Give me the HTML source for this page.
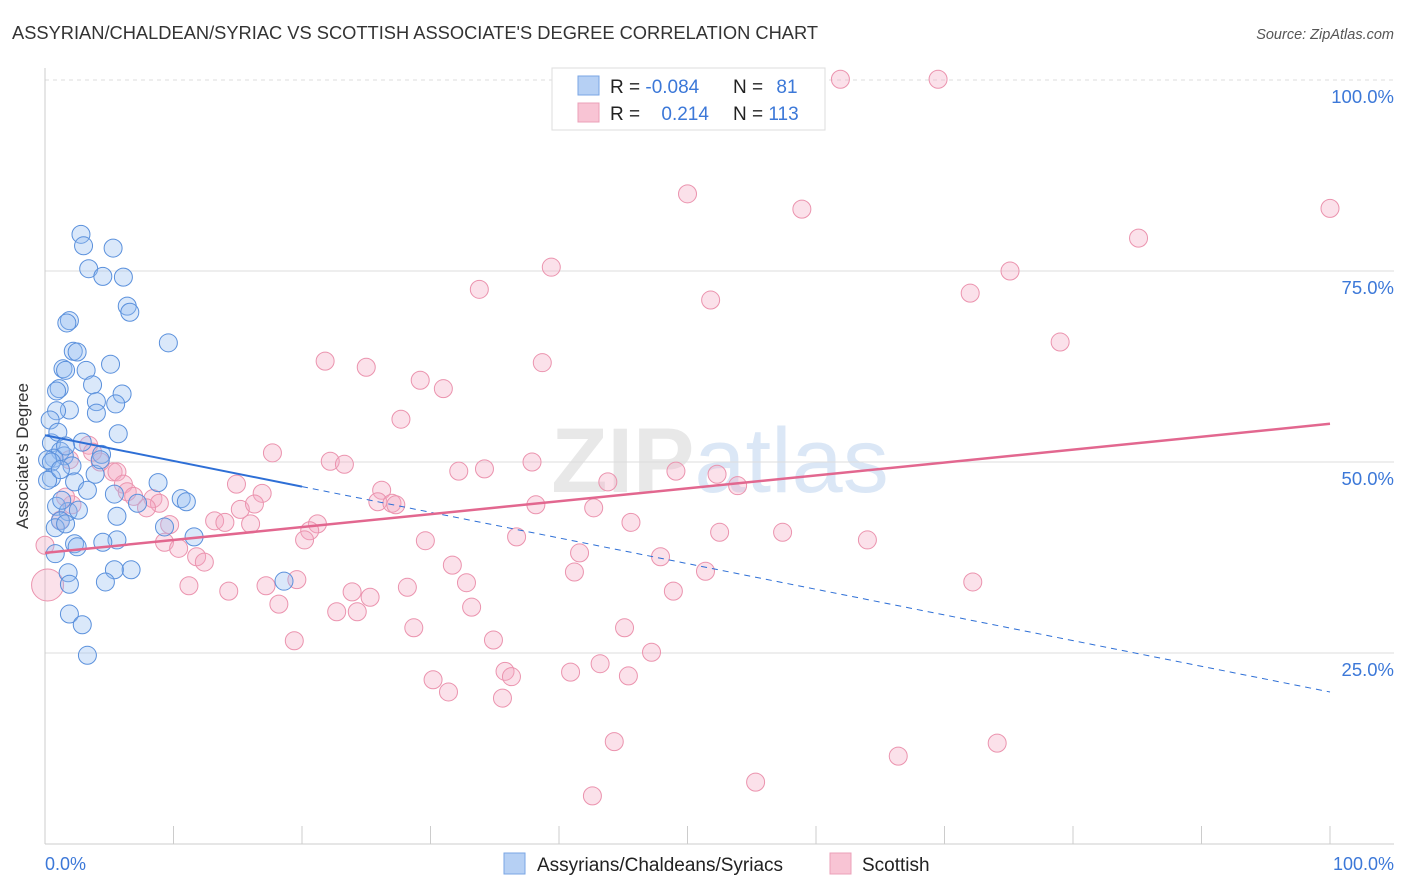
<!DOCTYPE html>
<html><head><meta charset="utf-8"><style>
body{margin:0;background:#fff;font-family:"Liberation Sans",sans-serif}
svg{display:block}
</style></head><body>
<svg id="c" width="1406" height="892" xmlns="http://www.w3.org/2000/svg">
<text x="12" y="39" font-size="18.3" fill="#333">ASSYRIAN/CHALDEAN/SYRIAC VS SCOTTISH ASSOCIATE'S DEGREE CORRELATION CHART</text>
<text x="1394" y="39" font-size="14.5" fill="#555" font-style="italic" text-anchor="end">Source: ZipAtlas.com</text>
<text x="720" y="492" font-size="92" fill="#e8e8e8" text-anchor="middle" font-weight="bold">ZIP<tspan fill="#dbe7f6" font-weight="normal">atlas</tspan></text>
<g id="grid"></g>
<line x1="45" y1="68" x2="45" y2="844" stroke="#ccc"/>
<line x1="45" y1="844" x2="1394" y2="844" stroke="#ccc"/>
<text x="28" y="456" font-size="17" fill="#333" text-anchor="middle" transform="rotate(-90 28 456)">Associate's Degree</text>
<text x="45" y="870" font-size="18" fill="#3c78d8">0.0%</text>
<text x="1394" y="870" font-size="18" fill="#3c78d8" text-anchor="end">100.0%</text>
<g id="pts"></g>
<g id="trend"></g>
<g>
<rect x="552" y="68" width="273" height="62" fill="#fff" stroke="#ddd"/>
<rect x="578" y="76" width="21" height="19" fill="#b6d0f4" stroke="#7aa6e4"/>
<rect x="578" y="103" width="21" height="19" fill="#f8c4d4" stroke="#eba0b8"/>
<text x="610" y="93" font-size="19" fill="#222">R = <tspan fill="#3c78d8">-0.084</tspan></text>
<text x="733" y="93" font-size="19" fill="#222">N = <tspan fill="#3c78d8" dx="8">81</tspan></text>
<text x="610" y="120" font-size="19" fill="#222">R = <tspan fill="#3c78d8" dx="16">0.214</tspan></text>
<text x="733" y="120" font-size="19" fill="#222">N = <tspan fill="#3c78d8">113</tspan></text>
</g>
<g>
<rect x="504" y="853" width="21" height="21" fill="#b6d0f4" stroke="#7aa6e4"/>
<text x="537" y="871" font-size="19" fill="#222">Assyrians/Chaldeans/Syriacs</text>
<rect x="830" y="853" width="21" height="21" fill="#f8c4d4" stroke="#eba0b8"/>
<text x="862" y="871" font-size="19" fill="#222">Scottish</text>
</g>
</svg>
<script>
const yTicks=[25,50,75,100];
const yTickLabels=["25.0%","50.0%","75.0%","100.0%"];
const xTicks=[0,10,20,30,40,50,60,70,80,90,100];
const blueX=[2.8,3.0,5.3,3.4,4.5,6.1,6.4,6.6,1.9,1.7,9.6,2.2,2.5,5.1,1.4,1.6,3.2,3.7,1.1,0.9,6.0,4.0,5.5,1.9,0.9,4.0,0.4,5.7,2.9,0.5,1.2,1.5,4.4,0.7,2.1,0.2,0.5,3.9,2.3,0.5,8.8,3.3,5.4,10.6,11.0,7.2,0.9,1.8,5.6,1.2,0.8,1.6,11.6,5.6,2.3,4.5,2.5,0.8,1.8,6.7,5.4,4.7,1.9,18.6,1.9,2.9,3.3,0.2,1.3,2.6,9.3,4.3,1.0,1.6,1.2];
const blueY=[79.8,78.3,78.0,75.3,74.3,74.2,70.4,69.6,68.5,68.2,65.6,64.5,64.4,62.8,62.2,62.0,62.0,60.1,59.6,59.3,58.9,57.9,57.6,56.8,56.7,56.4,55.5,53.7,52.6,52.5,51.4,50.8,51.0,50.5,49.5,50.3,50.0,48.4,47.4,47.9,47.3,46.3,45.8,45.2,44.8,44.6,44.2,43.5,42.9,42.3,41.4,41.9,40.2,39.8,39.3,39.5,38.9,38.0,35.5,35.9,35.9,34.3,34.0,34.4,30.1,28.7,24.7,47.6,45.0,43.7,41.5,50.3,53.9,52.1,49.0];
const pinkX=[61.9,69.5,50.0,58.9,100,85.1,39.4,75.1,33.8,72.0,51.8,79.0,21.8,25.0,38.7,29.2,31.0,27.7,17.7,22.2,23.3,37.9,32.2,34.2,49.1,52.3,53.9,43.8,14.9,16.9,26.2,4.3,3.4,3.7,1.9,5.3,5.6,6.1,6.4,6.9,8.4,8.9,7.9,25.9,27.0,27.3,38.2,42.7,15.2,16.3,45.6,9.7,13.2,14.0,16.0,21.2,20.6,20.2,9.3,10.4,36.7,29.6,52.5,57.4,64.0,11.8,12.4,41.6,47.9,31.7,51.4,41.2,32.8,28.2,11.2,14.3,17.2,19.6,23.9,25.3,48.9,72.2,18.2,33.2,22.7,24.3,28.7,45.1,19.4,34.9,47.2,43.2,35.8,36.3,40.9,45.4,30.2,31.4,35.6,44.3,66.4,74.1,55.3,42.6,1.2,2.1,1.6,0.2,0];
const pinkY=[100.1,100.1,85.1,83.1,83.2,79.3,75.5,75.0,72.6,72.1,71.2,65.7,63.2,62.4,63.0,60.7,59.6,55.6,51.2,50.1,49.7,50.0,48.8,49.1,48.8,48.4,46.9,47.4,47.1,45.9,46.3,50.0,52.2,51.3,50.3,48.7,48.7,47.1,46.1,45.5,45.2,44.6,44.0,44.8,44.6,44.4,44.4,44.0,43.8,44.5,42.1,41.8,42.3,42.1,41.9,41.9,41.0,39.8,39.5,38.7,40.2,39.7,40.8,40.8,39.8,37.6,36.9,38.1,37.6,36.5,35.7,35.6,34.2,33.6,33.8,33.1,33.8,34.6,33.0,32.3,33.1,34.3,31.4,31.0,30.4,30.4,28.3,28.3,26.6,26.7,25.1,23.6,22.6,21.9,22.5,22.0,21.5,19.9,19.1,13.4,11.5,13.2,8.1,6.3,42.4,44.4,45.4,33.9,39.1];
const blueTrend=[53.5,19.9];
const pinkTrend=[38.1,55.0];
const NS="http://www.w3.org/2000/svg";
const xs=v=>45+v*12.85, ys=v=>844-v*7.64;
function mk(t,a,p){const e=document.createElementNS(NS,t);for(const k in a)e.setAttribute(k,a[k]);p.appendChild(e);return e;}
const grid=document.getElementById('grid');
yTicks.forEach((t,i)=>{
 const l=mk('line',{x1:45,x2:1394,y1:ys(t),y2:ys(t),stroke:'#ddd','stroke-dasharray':t==100?'4,4':'none'},grid);
 
 
 const tx=mk('text',{x:1394,y:ys(t)+23,'font-size':18.5,fill:'#3c78d8','text-anchor':'end'},grid);
 tx.textContent=yTickLabels[i];
 
 
});
xTicks.forEach(t=>{
 const l=mk('line',{x1:xs(t),x2:xs(t),y1:826,y2:844,stroke:'#ccc'},grid);
 
 
});
const pts=document.getElementById('pts');
pinkX.forEach((x,i)=>{
 const big=(i==pinkX.length-2);
 const c=mk('circle',{cx:xs(x),cy:ys(pinkY[i]),r:big?16:9,fill:'rgba(244,170,195,0.35)',stroke:'#eb93ae','stroke-width':1},pts);
 
 
});
blueX.forEach((x,i)=>{
 const c=mk('circle',{cx:xs(x),cy:ys(blueY[i]),r:9,fill:'rgba(150,190,240,0.35)',stroke:'#5a90dc','stroke-width':1},pts);
 
 
});
const tr=document.getElementById('trend');
const by=x=>blueTrend[0]+(blueTrend[1]-blueTrend[0])*x/100;
let l1=mk('line',{x1:xs(0),y1:ys(by(0)),x2:xs(20),y2:ys(by(20)),stroke:'#2e6fd6','stroke-width':2},tr);


let l2=mk('line',{x1:xs(20),y1:ys(by(20)),x2:xs(100),y2:ys(by(100)),stroke:'#2e6fd6','stroke-width':1,'stroke-dasharray':'6,5'},tr);


let l3=mk('line',{x1:xs(0),y1:ys(pinkTrend[0]),x2:xs(100),y2:ys(pinkTrend[1]),stroke:'#e2678f','stroke-width':2.5},tr);


</script>
</body></html>
